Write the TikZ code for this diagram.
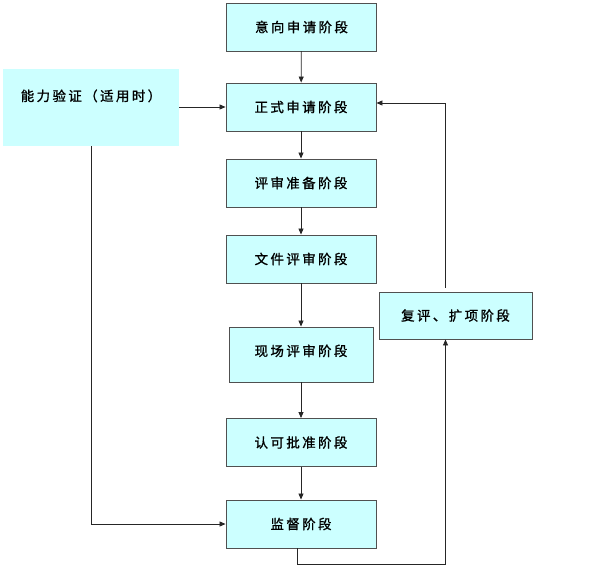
\documentclass[tikz,border=0pt]{standalone}
\usepackage{fontspec}
\newfontfamily\cjk[LetterSpace=18, FakeBold=1.2]{Noto Sans CJK SC}
\usetikzlibrary{positioning,arrows.meta}
\definecolor{boxfill}{HTML}{CCFFFF}
\definecolor{boxline}{HTML}{505050}

\begin{document}
\begin{tikzpicture}[x=1bp, y=-1bp,
  stage/.style={draw=boxline, line width=0.9bp, fill=boxfill, minimum width=150bp,
                minimum height=48bp, inner sep=0, font=\cjk\fontsize{13.5}{15}\selectfont},
  flow/.style={-{Triangle[length=6bp, width=5bp]}, line width=0.8bp, black!85}]
\useasboundingbox (0,0) rectangle (595,571);
\node[stage] (apply) at (301.5, 27) {意向申请阶段};
\node[stage] (formal) at (301, 107) {正式申请阶段};
\node[stage] (prep) at (301, 183) {评审准备阶段};
\node[stage] (docs) at (301, 259) {文件评审阶段};
\node[stage, minimum width=144bp, text height=29bp, text depth=26bp] (site)
  at (301, 354.5) {现场评审阶段};
\node[stage] (approve) at (301, 442.5) {认可批准阶段};
\node[stage] (supervise) at (301, 524) {监督阶段};
\node[stage, minimum width=153bp, minimum height=47bp] (review) at (455.5, 315.5)
  {复评、扩项阶段};
\node[stage, draw=none, minimum width=176bp, text height=32bp, text depth=45bp]
  (ability) at (91, 107.5) {能力验证（适用时）};
% main chain
\foreach \a/\b in {apply/formal, formal/prep, prep/docs, docs/site,
                   site/approve, approve/supervise}
  \draw[flow] (\a) -- (\b);
\draw[flow] (ability.east |- formal.west) -- (formal.west);
\draw[flow] (ability.south) |- (supervise.west);
% loop back
\draw[flow] ([xshift=-4bp]supervise.south) -- ++(0, 16) -| ([xshift=-10bp]review.south);
\draw[flow] ([xshift=-10bp, yshift=4bp]review.north) |- ([yshift=4bp]formal.east);
\end{tikzpicture}
\end{document}
